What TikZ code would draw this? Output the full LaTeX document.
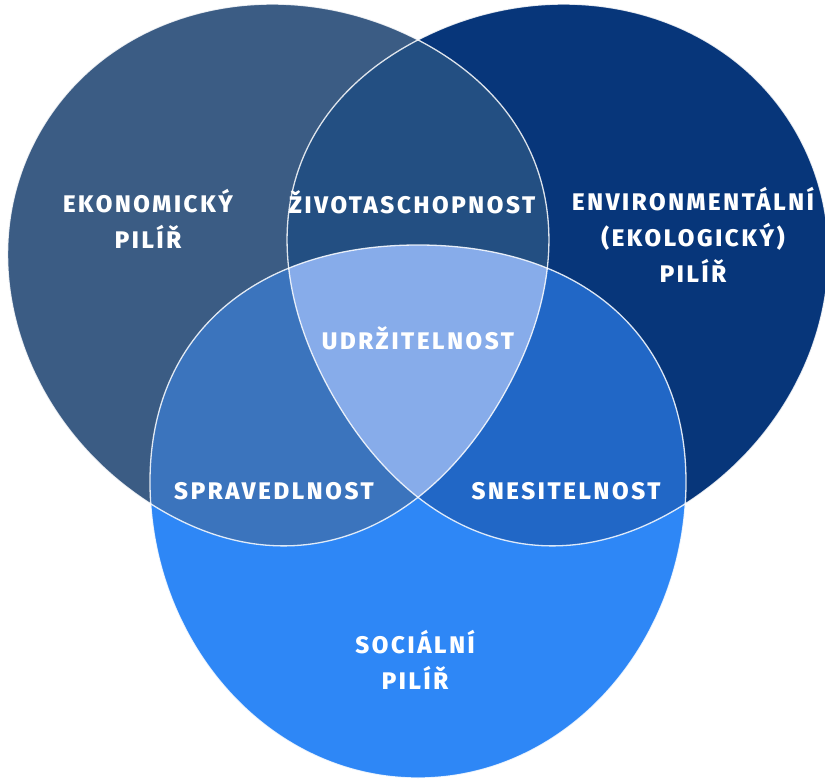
\documentclass[tikz,border=0pt]{standalone}
\usepackage{fontspec}
\usepackage{xcolor}
\usetikzlibrary{positioning}
\newfontfamily\pillarfont{Fira Sans}[BoldFont={Fira Sans ExtraBold}, LetterSpace=11]
\definecolor{EconBlue}{HTML}{3B5C84}
\definecolor{EnvNavy}{HTML}{07367A}
\definecolor{SocBlue}{HTML}{2E87F6}
\definecolor{ViableBlue}{HTML}{234F82}
\definecolor{FairBlue}{HTML}{3B74BD}
\definecolor{BearBlue}{HTML}{2167C6}
\definecolor{CoreBlue}{HTML}{87ACEA}

% one rounded lobe, tip pointing down; the other two are rotated copies
\newcommand{\lobepath}{(0,97) .. controls (-160,97) and (-268,10) .. (-268,-140)
  .. controls (-268,-300) and (-150,-436) .. (0,-436)
  .. controls (150,-436) and (268,-300) .. (268,-140)
  .. controls (268,10) and (160,97) .. (0,97) -- cycle}

\begin{document}
\begin{tikzpicture}[x=1pt, y=1pt,
            outline/.style={draw=white, line width=1.3pt, draw opacity=0.85},
            econlobe/.style={yshift=-7pt, rotate=-120},
            envlobe/.style={yshift=-7pt, rotate=120},
            pillar/.style={text=white, align=center, inner sep=0pt, font=\pillarfont\bfseries\fontsize{24}{36}\selectfont}
        ]
            \useasboundingbox (-418,-440) rectangle (407,342);

            % The three pillars
            \fill[EconBlue, econlobe] \lobepath;
            \fill[EnvNavy, envlobe] \lobepath;
            \fill[SocBlue] \lobepath;

            % Overlaps of two pillars
            \begin{scope}
                \clip[econlobe] \lobepath;
                \fill[ViableBlue, envlobe] \lobepath;
                \fill[FairBlue] \lobepath;
            \end{scope}
            \begin{scope}
                \clip[envlobe] \lobepath;
                \fill[BearBlue] \lobepath;
            \end{scope}

            % Overlap of all three
            \begin{scope}
                \clip[econlobe] \lobepath;
                \clip[envlobe] \lobepath;
                \fill[CoreBlue] \lobepath;
            \end{scope}

            % White edges on top
            \draw[outline, econlobe] \lobepath;
            \draw[outline, envlobe] \lobepath;
            \draw[outline] \lobepath;

            % Labels
            \node[pillar] at (-270, 123) (econ) {EKONOMICKÝ\\PILÍŘ};
            \node[pillar] at (-6, 140) (viable) {ŽIVOTASCHOPNOST};
            \node[pillar] at (275, 107) (env) {ENVIRONMENTÁLNÍ\\(EKOLOGICKÝ)\\PILÍŘ};
            \node[pillar] at (0, 4) (core) {UDRŽITELNOST};
            \node[pillar] at (-144, -149) (fair) {SPRAVEDLNOST};
            \node[pillar] at (148, -149) (bearable) {SNESITELNOST};
            \node[pillar] at (-3, -318) (social) {SOCIÁLNÍ\\PILÍŘ};

        \end{tikzpicture}
\end{document}
